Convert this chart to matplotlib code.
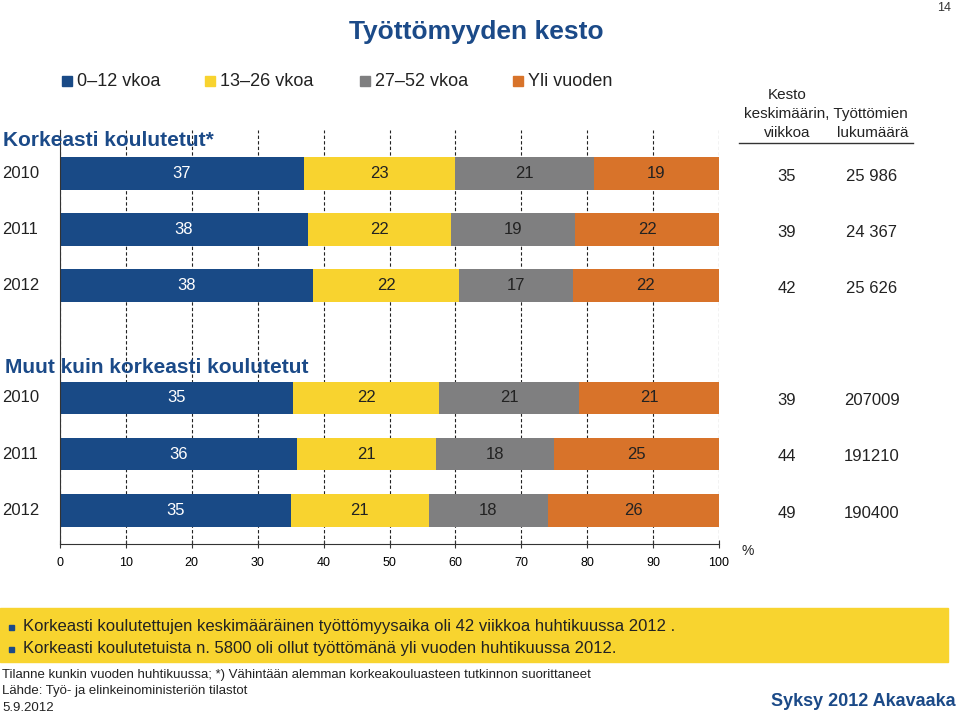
import matplotlib.pyplot as plt
import matplotlib.transforms as mtransforms
import numpy as np

plt.rcParams['font.family'] = ['Liberation Sans', 'DejaVu Sans']

# data
years = ['2010', '2011', '2012', '2010', '2011', '2012']
rows = [0, 1, 2, 4, 5, 6]
series = ['0\u201312 vkoa', '13\u201326 vkoa', '27\u201352 vkoa', 'Yli vuoden']
w0_12 = [37, 38, 38, 35, 36, 35]
w13_26 = [23, 22, 22, 22, 21, 21]
w27_52 = [21, 19, 17, 21, 18, 18]
over_year = [19, 22, 22, 21, 25, 26]
mean_weeks = ['35', '39', '42', '39', '44', '49']
unemployed = ['25 986', '24 367', '25 626', '207009', '191210', '190400']

colors = ['#194a86', '#f8d32f', '#7f7f80', '#d8732a']
text_colors = ['white', '#222222', '#222222', '#222222']
blue = '#1b4a88'

W, H = 960, 715
fig = plt.figure(figsize=(W / 100, H / 100), dpi=100)


def fx(px):
    return px / W


def fy(py):
    return 1 - py / H


ax = fig.add_axes([fx(60), fy(544), fx(719) - fx(60), fy(130) - fy(544)])

data = np.array([w0_12, w13_26, w27_52, over_year], dtype=float)
# values are rounded; bars fill the whole 100 %
shares = data / data.sum(axis=0) * 100
left = np.zeros(len(rows))
for i in range(4):
    bars = ax.barh(rows, shares[i], left=left, height=0.58, color=colors[i],
                   zorder=2)
    ax.bar_label(bars, labels=[str(int(v)) for v in data[i]],
                 label_type='center', color=text_colors[i], fontsize=12)
    left += shares[i]

ax.set_xlim(0, 100)
ax.set_ylim(6.6, -0.77)
ax.set_xticks(np.arange(0, 101, 10))
ax.tick_params(axis='x', direction='inout', length=6, labelsize=9,
               pad=6, color='#333333')
for lbl in ax.get_xticklabels():
    lbl.set_family(['Liberation Sans Narrow', 'Liberation Sans'])
ax.set_yticks([])
ax.grid(axis='x', linestyle=(0, (3, 2)), color='#222222', linewidth=0.8,
        zorder=1)
for s in ['top', 'right']:
    ax.spines[s].set_visible(False)
ax.spines['left'].set_color('#333333')
ax.spines['bottom'].set_color('#333333')

# year labels and right-hand columns
trans = mtransforms.blended_transform_factory(fig.transFigure, ax.transData)
for r, y, m, n in zip(rows, years, mean_weeks, unemployed):
    ax.text(fx(2), r, y, transform=trans, fontsize=12, va='center',
            ha='left', color='#222222')
    ax.text(fx(787), r + 0.05, m, transform=trans, fontsize=12,
            va='center', ha='center', color='#222222')
    ax.text(fx(872), r + 0.05, n, transform=trans, fontsize=12,
            va='center', ha='center', color='#222222')

# titles and labels
fig.text(fx(476), fy(32), 'Työttömyyden kesto', fontsize=19,
         fontweight='bold', color=blue, ha='center', va='center')
fig.text(fx(944), fy(8), '14', fontsize=9, color='#333333', ha='center',
         va='center')

legend_x = [62, 205, 360, 513]
for x, lab, c in zip(legend_x, series, colors):
    fig.patches.append(plt.Rectangle((fx(x), fy(86)), fx(10), 10 / H,
                                     color=c, transform=fig.transFigure))
    fig.text(fx(x + 15), fy(81), lab, fontsize=13, color='#222222',
             va='center', ha='left')

fig.text(fx(3), fy(140), 'Korkeasti koulutetut*', fontsize=15,
         fontweight='bold', color=blue, va='center', ha='left')
fig.text(fx(5), fy(368), 'Muut kuin korkeasti koulutetut', fontsize=15,
         fontweight='bold', color=blue, va='center', ha='left')

fig.text(fx(787), fy(95), 'Kesto', fontsize=11, color='#222222',
         ha='center', va='center')
fig.text(fx(826), fy(114), 'keskimäärin, Työttömien', fontsize=11,
         color='#222222', ha='center', va='center')
fig.text(fx(787), fy(133), 'viikkoa', fontsize=11, color='#222222',
         ha='center', va='center')
fig.text(fx(873), fy(133), 'lukumäärä', fontsize=11, color='#222222',
         ha='center', va='center')
fig.lines.append(plt.Line2D([fx(739), fx(913)], [fy(143), fy(143)],
                            color='#333333', linewidth=1,
                            transform=fig.transFigure))
fig.text(fx(742), fy(551), '%', fontsize=10, color='#222222',
         ha='left', va='center')

# yellow note box
fig.patches.append(plt.Rectangle((fx(0), fy(662)), fx(948), 54 / H,
                                 color='#f8d42f', transform=fig.transFigure))
notes = ['Korkeasti koulutettujen keskimääräinen työttömyysaika oli 42 viikkoa huhtikuussa 2012 .',
         'Korkeasti koulutetuista n. 5800 oli ollut työttömänä yli vuoden huhtikuussa 2012.']
for py, note in zip([627, 649], notes):
    fig.patches.append(plt.Rectangle((fx(9), fy(py + 3)), fx(5), 5 / H,
                                     color=blue, transform=fig.transFigure))
    fig.text(fx(23), fy(py), note, fontsize=12, color='#222222',
             ha='left', va='center')

footer = ['Tilanne kunkin vuoden huhtikuussa; *) Vähintään alemman korkeakouluasteen tutkinnon suorittaneet',
          'Lähde: Työ- ja elinkeinoministeriön tilastot',
          '5.9.2012']
for py, t in zip([675, 691, 708], footer):
    fig.text(fx(2), fy(py), t, fontsize=9.5, color='#222222', ha='left',
             va='center')
fig.text(fx(956), fy(702), 'Syksy 2012 Akavaaka', fontsize=13,
         fontweight='bold', color=blue, ha='right', va='center')

fig.savefig('out.png', dpi=100)
